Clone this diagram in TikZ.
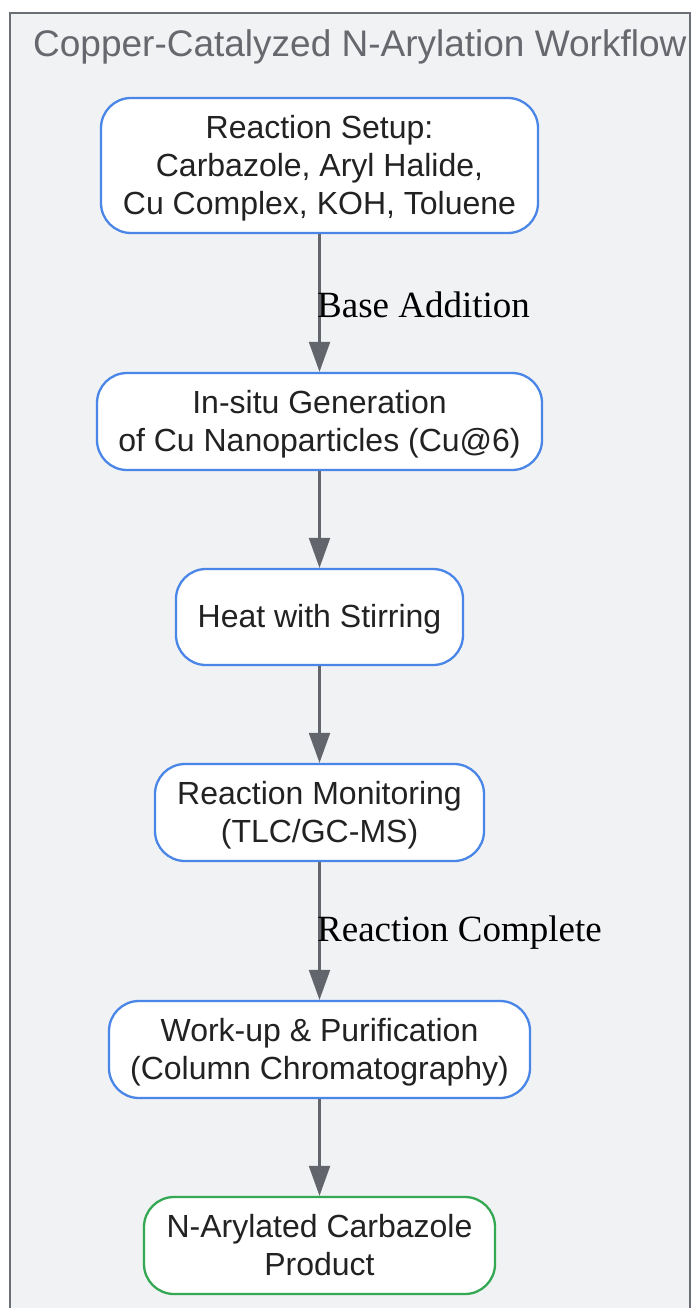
\documentclass[tikz,border=0pt]{standalone}
\usepackage{fontspec}
\setmainfont{Liberation Sans}
\newfontfamily\serifface{Liberation Serif}
\usetikzlibrary{arrows.meta}
\definecolor{clusterfill}{HTML}{F1F2F4}
\definecolor{clusterdraw}{HTML}{6B6E75}
\definecolor{bluedraw}{HTML}{4A86E8}
\definecolor{greendraw}{HTML}{34A853}
\definecolor{arrowcol}{HTML}{62656B}
\definecolor{textcol}{HTML}{222222}
\definecolor{titlecol}{HTML}{66686E}
\newcommand\boxtxt[1]{\raisebox{-3pt}[\height][\depth]{\begin{tabular}{@{}c@{}}#1\end{tabular}}}
\tikzset{
  stepbox/.style={draw=bluedraw, line width=2.3pt, fill=white, rounded corners=30pt,
    align=center, text=textcol, inner sep=0pt,
    font=\fontsize{32}{38}\selectfont},
  endbox/.style={stepbox, draw=greendraw},
  flow/.style={draw=arrowcol, line width=2.2pt, -{Triangle[width=21pt,length=30pt]}},
  elabel/.style={anchor=west, text=black, inner sep=0pt, font=\serifface\fontsize{37}{40}\selectfont}
}
\begin{document}
\begin{tikzpicture}[x=1pt,y=-1pt]
\useasboundingbox (0,0) rectangle (694,1308);
\begin{scope}
\clip (0,0) rectangle (694,1308);
\draw[fill=clusterfill, draw=clusterdraw, line width=2.3pt] (10,13) rectangle (690,1330);
\node[anchor=west, text=titlecol, inner sep=0pt, font=\fontsize{37}{40}\selectfont] (title) at (33,47)
  {Copper-Catalyzed N-Arylation Workflow};
\end{scope}
\node[stepbox, minimum width=437pt, minimum height=135pt] (setup) at (319.5,165.5)
  {\boxtxt{Reaction Setup:\\Carbazole, Aryl Halide,\\Cu Complex, KOH, Toluene}};
\node[stepbox, minimum width=445pt, minimum height=97pt] (insitu) at (319.5,421.5)
  {\boxtxt{In-situ Generation\\of Cu Nanoparticles (Cu@6)}};
\node[stepbox, minimum width=287pt, minimum height=96pt] (heat) at (319.5,617)
  {\boxtxt{Heat with Stirring}};
\node[stepbox, minimum width=329pt, minimum height=97pt] (monitor) at (319.5,812.5)
  {\boxtxt{Reaction Monitoring\\(TLC/GC-MS)}};
\node[stepbox, minimum width=421pt, minimum height=97pt] (workup) at (319.5,1049.5)
  {\boxtxt{Work-up \& Purification\\(Column Chromatography)}};
\node[endbox, minimum width=351pt, minimum height=97pt] (product) at (319.5,1245.5)
  {\boxtxt{N-Arylated Carbazole\\Product}};
\draw[flow] (setup.south) -- (insitu.north);
\draw[flow] (insitu.south) -- (heat.north);
\draw[flow] (heat.south) -- (monitor.north);
\draw[flow] (monitor.south) -- (workup.north);
\draw[flow] (workup.south) -- (product.north);
\node[elabel] (lab1) at (317,305) {Base Addition};
\node[elabel] (lab2) at (317,933) {Reaction Complete};
\end{tikzpicture}
\end{document}
